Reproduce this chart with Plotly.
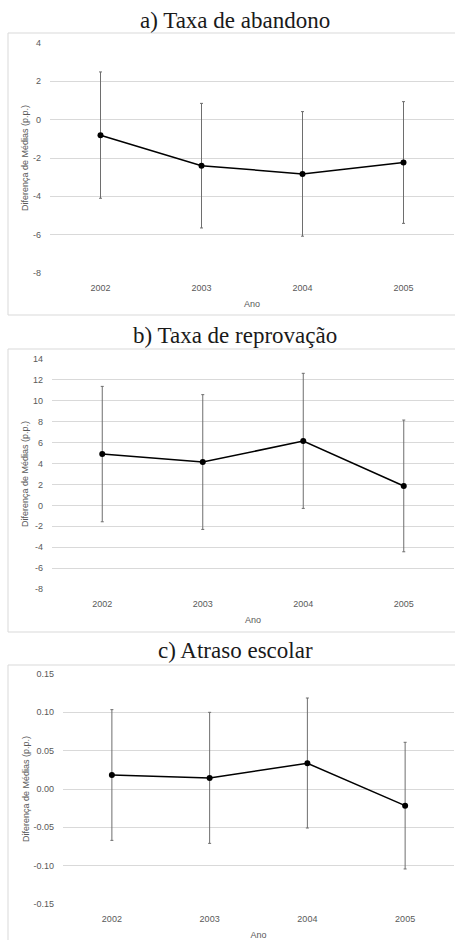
import plotly.graph_objects as go

years = ["2002", "2003", "2004", "2005"]

# a) Taxa de abandono
abandono = [-0.81, -2.40, -2.83, -2.24]
abandono_hi = [2.49, 0.85, 0.42, 0.94]
abandono_lo = [-4.10, -5.65, -6.08, -5.41]
ticks_a = [-8, -6, -4, -2, 0, 2, 4]
ticklabels_a = ["-8", "-6", "-4", "-2", "0", "2", "4"]

# b) Taxa de reprovação
reprov = [4.91, 4.14, 6.15, 1.85]
reprov_hi = [11.38, 10.59, 12.63, 8.16]
reprov_lo = [-1.57, -2.30, -0.29, -4.44]
ticks_b = [-8, -6, -4, -2, 0, 2, 4, 6, 8, 10, 12, 14]
ticklabels_b = ["-8", "-6", "-4", "-2", "0", "2", "4", "6", "8", "10", "12", "14"]

# c) Atraso escolar
atraso = [0.0183, 0.0143, 0.0335, -0.0217]
atraso_hi = [0.1035, 0.1000, 0.1187, 0.0609]
atraso_lo = [-0.0670, -0.0709, -0.0509, -0.1043]
ticks_c = [-0.15, -0.10, -0.05, 0.00, 0.05, 0.10, 0.15]
ticklabels_c = ["-0.15", "-0.10", "-0.05", "0.00", "0.05", "0.10", "0.15"]

titles = ["a) Taxa de abandono", "b) Taxa de reprovação", "c) Atraso escolar"]

W, H = 455, 940
def px(x):
    return x / W
def py(y):
    return 1 - y / H

panels = [
    dict(vals=abandono, hi=abandono_hi, lo=abandono_lo, tv=ticks_a, tt=ticklabels_a,
         x0=50, top=43, bot=273, rng=[-8, 4], title_y=20, box=(8, 33, 460, 315)),
    dict(vals=reprov, hi=reprov_hi, lo=reprov_lo, tv=ticks_b, tt=ticklabels_b,
         x0=52, top=359, bot=589, rng=[-8, 14], title_y=335, box=(8, 349, 460, 632)),
    dict(vals=atraso, hi=atraso_hi, lo=atraso_lo, tv=ticks_c, tt=ticklabels_c,
         x0=63, top=674, bot=904, rng=[-0.15, 0.15], title_y=650, box=(8, 665, 460, 945)),
]

fig = go.Figure()
tickfont = dict(family="Liberation Sans, Arial, sans-serif", size=9, color="#595959")
shapes = []
annotations = []
for i, p in enumerate(panels):
    n = "" if i == 0 else str(i + 1)
    plus = [h - v for h, v in zip(p["hi"], p["vals"])]
    minus = [v - l for v, l in zip(p["vals"], p["lo"])]
    fig.add_trace(go.Scatter(
        x=years, y=p["vals"], mode="lines+markers",
        line=dict(color="black", width=1.5),
        marker=dict(color="black", size=6),
        error_y=dict(type="data", symmetric=False, array=plus, arrayminus=minus,
                     color="#6e6e6e", thickness=1, width=1.5),
        xaxis="x" + n, yaxis="y" + n, showlegend=False, hoverinfo="skip",
    ))
    fig.layout["xaxis" + n] = dict(
        domain=[px(p["x0"]), px(454)], anchor="y" + n, type="category",
        range=[-0.5, 3.5], showgrid=False, zeroline=False, showline=False,
        automargin=False,
        ticks="", tickfont=tickfont, ticklabelstandoff=8,
        title=dict(text="Ano", font=tickfont, standoff=8),
    )
    fig.layout["yaxis" + n] = dict(
        domain=[py(p["bot"]), py(p["top"])], anchor="x" + n,
        range=p["rng"], tickmode="array", tickvals=p["tv"], ticktext=p["tt"],
        showgrid=True, gridcolor="#d9d9d9", gridwidth=1, zeroline=False,
        automargin=False,
        showline=False, ticks="", tickfont=tickfont, ticklabelstandoff=8,
        title=dict(text="Diferença de Médias (p.p.)", font=tickfont, standoff=2),
    )
    bx0, by0, bx1, by1 = p["box"]
    shapes.append(dict(type="rect", xref="paper", yref="paper",
                       x0=px(bx0), x1=px(bx1), y0=py(by1), y1=py(by0),
                       line=dict(color="#d9d9d9", width=1), layer="below"))
    annotations.append(dict(text=titles[i], xref="paper", yref="paper",
                            x=px(235), y=py(p["title_y"]), xanchor="center", yanchor="middle",
                            showarrow=False,
                            font=dict(family="Liberation Serif, serif", size=23, color="#1a1a1a")))

fig.update_layout(
    width=W, height=H, margin=dict(l=0, r=0, t=0, b=0),
    paper_bgcolor="white", plot_bgcolor="white",
    shapes=shapes, annotations=annotations,
)
fig.write_html("out.html", config={"displayModeBar": False},
               post_script="document.body.style.margin='0';document.body.style.overflow='hidden';")
